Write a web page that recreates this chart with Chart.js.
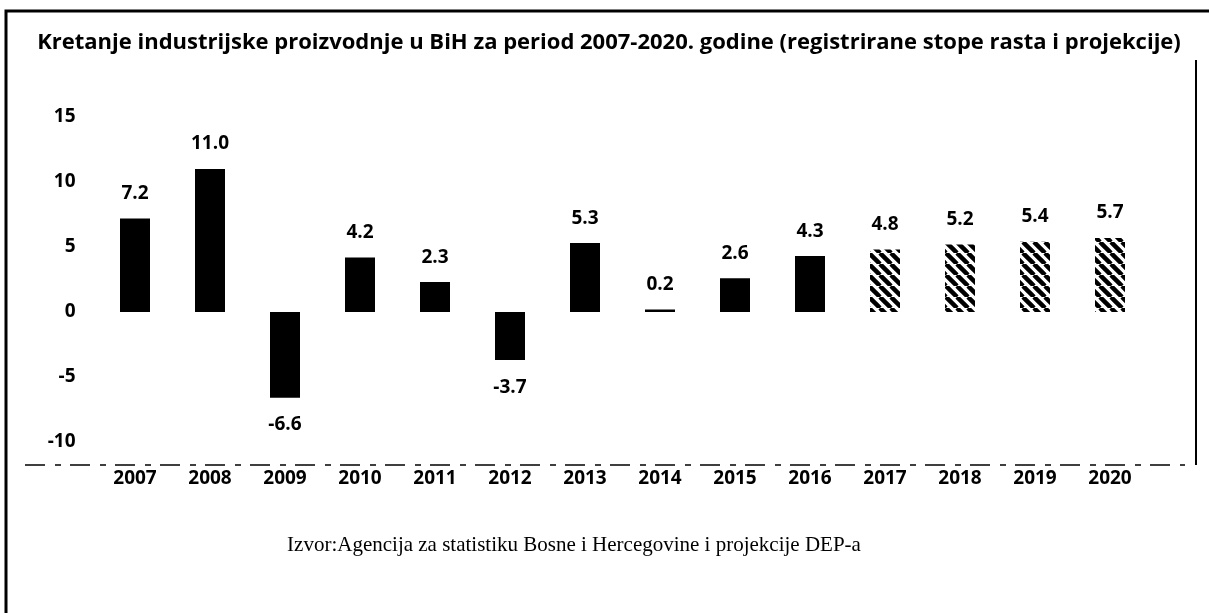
<!DOCTYPE html>
<html>
<head>
<meta charset="utf-8">
<script src="https://cdn.jsdelivr.net/npm/chart.js@4"></script>
<style>
    html, body { margin: 0; padding: 0; background: #fff; }
    #wrap { position: relative; width: 1209px; height: 613px; }
</style>
</head>
<body>
<div id="wrap"><canvas id="industry-chart" width="1209" height="613"></canvas></div>
<script>
const years = ['2007', '2008', '2009', '2010', '2011', '2012', '2013', '2014', '2015', '2016', '2017', '2018', '2019', '2020']
const growth = [7.2, 11.0, -6.6, 4.2, 2.3, -3.7, 5.3, 0.2, 2.6, 4.3, 4.8, 5.2, 5.4, 5.7]
const projected = [false, false, false, false, false, false, false, false, false, false, true, true, true, true]
const yTicks = [-10, -5, 0, 5, 10, 15]
const titleText = 'Kretanje industrijske proizvodnje u BiH za period 2007-2020. godine (registrirane stope rasta i projekcije)'
const sourceText = 'Izvor:Agencija za statistiku Bosne i Hercegovine i projekcije DEP-a'

const ctx = document.getElementById('industry-chart')
const labelFont = { family: 'Open Sans', size: 19, weight: 'bold' }

// striped fill for the projected years
const hatch = () => {
    const s = 11
    const tile = document.createElement('canvas')
    tile.width = s
    tile.height = s
    const g = tile.getContext('2d')
    g.strokeStyle = '#000'
    g.lineWidth = 4.5
    for (const k of [-s, 0, s]) {
        g.beginPath()
        g.moveTo(k, 0)
        g.lineTo(k + s, s)
        g.stroke()
    }
    return ctx.getContext('2d').createPattern(tile, 'repeat')
}
const stripes = hatch()

const valueLabels = {
    id: 'valueLabels',
    afterDatasetsDraw(chart) {
        const c = chart.ctx
        const meta = chart.getDatasetMeta(0)
        c.save()
        c.fillStyle = '#000'
        c.font = 'bold 19px "Open Sans"'
        c.textAlign = 'center'
        c.textBaseline = 'middle'
        meta.data.forEach((bar, i) => {
            const v = growth[i]
            const y = v >= 0 ? bar.y - 25 : bar.y + 27
            c.fillText(v.toFixed(1), bar.x, y)
        })
        c.restore()
    },
}

// border, title, dashed separator and source note
const frame = {
    id: 'frame',
    afterDraw(chart) {
        const c = chart.ctx
        c.save()
        c.strokeStyle = '#000'
        c.lineWidth = 3
        c.beginPath()
        c.moveTo(6, 613)
        c.lineTo(6, 11)
        c.lineTo(1209, 11)
        c.stroke()

        c.lineWidth = 2
        c.beginPath()
        c.moveTo(1196, 60)
        c.lineTo(1196, 465)
        c.stroke()

        c.lineWidth = 1.5
        c.setLineDash([20, 10, 6, 9])
        c.beginPath()
        c.moveTo(25, 465)
        c.lineTo(1185, 465)
        c.stroke()
        c.setLineDash([])

        c.fillStyle = '#000'
        c.textAlign = 'center'
        c.textBaseline = 'middle'
        c.font = 'bold 22px "Open Sans"'
        c.fillText(titleText, 609, 43)
        c.font = '21px "Liberation Serif"'
        c.fillText(sourceText, 574, 545)
        c.restore()
    },
}

new Chart(ctx, {
    type: 'bar',
    data: {
        labels: years,
        datasets: [{
            data: growth,
            backgroundColor: projected.map(p => p ? stripes : '#000'),
            borderWidth: 0,
            categoryPercentage: 1,
            barPercentage: 0.4,
        }],
    },
    options: {
        responsive: false,
        animation: false,
        layout: {
            padding: { left: 0, right: 61.5, top: 117, bottom: 0 },
        },
        plugins: {
            legend: { display: false },
            tooltip: { enabled: false },
        },
        scales: {
            x: {
                grid: { display: false, drawTicks: false },
                border: { display: false },
                ticks: { color: '#000', font: labelFont, padding: 25 },
                afterFit: s => { s.height = 171 },
            },
            y: {
                min: -10,
                max: 15,
                grid: { display: false, drawTicks: false },
                border: { display: false },
                ticks: { color: '#000', font: labelFont, padding: 22 },
                afterBuildTicks: axis => { axis.ticks = yTicks.map(v => ({ value: v })) },
                afterFit: s => { s.width = 97.5 },
            },
        },
    },
    plugins: [valueLabels, frame],
})
</script>
</body>
</html>
